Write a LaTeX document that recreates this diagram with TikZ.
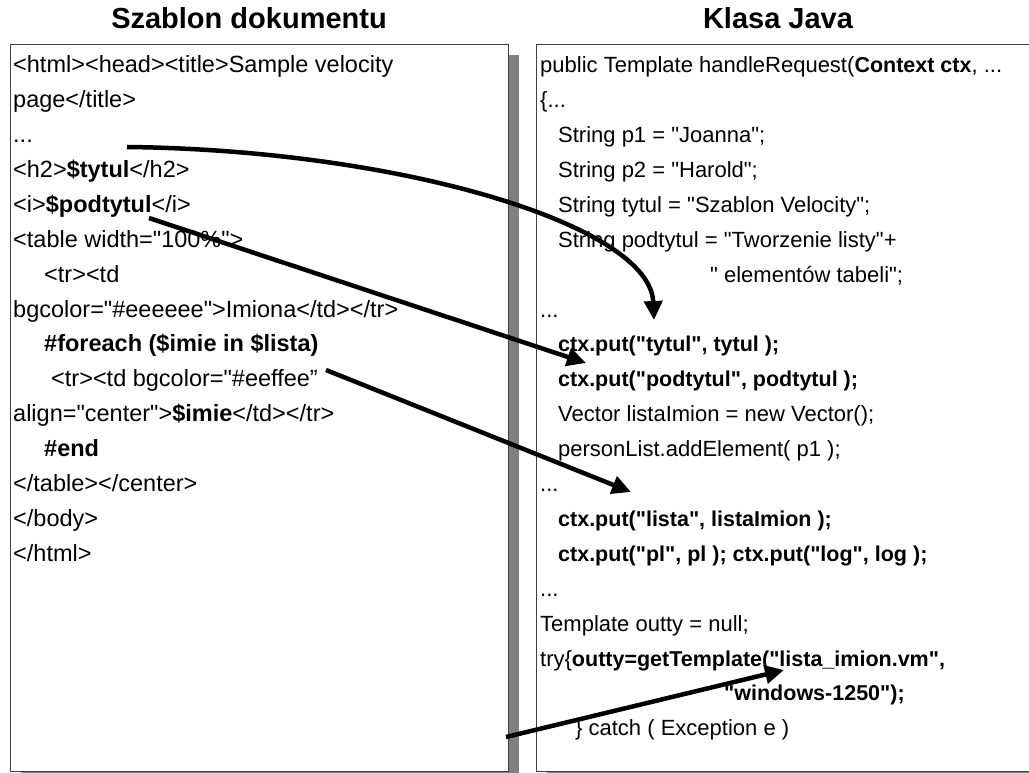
\documentclass[tikz,border=0pt]{standalone}
\usepackage{fontspec}
\setmainfont{Liberation Sans}[Ligatures=TeXOff]
\usetikzlibrary{arrows.meta,positioning,shadows}
\definecolor{frame}{RGB}{64,64,64}
\definecolor{shade}{RGB}{128,128,128}
\newcommand{\codedots}{...}
\newcommand{\jb}[1]{{\fontsize{21.5}{26}\selectfont\bfseries #1}}
\tikzset{
  >={Triangle[length=19pt,width=18pt]},
  panel/.style={draw=frame,fill=white,line width=1pt,anchor=north west,inner sep=0pt,
    minimum width=#1,minimum height=727pt,
    drop shadow={shadow xshift=11pt,shadow yshift=-11pt,fill=shade,opacity=1}},
  panel/.default=498pt,
  heading/.style={font=\fontsize{29}{34}\selectfont\bfseries,anchor=base,inner sep=0pt},
  codeline/.style={font=\fontsize{#1}{30}\selectfont,anchor=base west,inner sep=0pt},
  codeline/.default=22,
  link/.style={->,line width=4.5pt,draw=black},
}
\begin{document}
\begin{tikzpicture}[x=1pt,y=-1pt]
  \useasboundingbox (0,0) rectangle (1029,773);
  \clip (0,0) rectangle (1029,773);
  \node[panel] (tpl) at (9.5,44) {};
  \node[panel=520pt] (java) at (535.5,44) {};
  \node[heading] (tpltitle) at (249,29) {Szablon dokumentu};
  \node[heading] (javatitle) at (778,29) {Klasa Java};
  \foreach \t [count=\i from 0] in {{<html><head><title>Sample velocity},{page</title>},{\codedots},
    {<h2>\textbf{\$tytul}</h2>},{<i>\textbf{\$podtytul}</i>},{<table width="100\%">},
    {\hspace*{31pt}<tr><td},{bgcolor="\#eeeeee">Imiona</td></tr>},
    {\hspace*{31pt}\textbf{\#foreach (\$imie in \$lista)}},{\hspace*{38pt}<tr><td bgcolor="\#eeffee”},
    {align="center">\textbf{\$imie}</td></tr>},{\hspace*{31pt}\textbf{\#end}},
    {</table></center>},{</body>},{</html>}}{
    \node[codeline=23.5] (l\i) at (13,{72.7+34.9*\i}) {\t};
  }
  \foreach \t [count=\i from 0] in {{public Template handleRequest(\jb{Context ctx}, \codedots},{\{\codedots},
    {\hspace*{18pt}String p1 = "Joanna";},{\hspace*{18pt}String p2 = "Harold";},
    {\hspace*{18pt}String tytul = "Szablon Velocity";},{\hspace*{18pt}String podtytul = "Tworzenie listy"+},
    {\hspace*{170pt}" elementów tabeli";},{\codedots},
    {\hspace*{18pt}\jb{ctx.put("tytul", tytul );}},{\hspace*{18pt}\jb{ctx.put("podtytul", podtytul );}},
    {\hspace*{18pt}Vector listaImion = new Vector();},{\hspace*{18pt}personList.addElement( p1 );},{\codedots},
    {\hspace*{18pt}\jb{ctx.put("lista", listaImion );}},
    {\hspace*{18pt}\jb{ctx.put("pl", pl ); ctx.put("log", log );}},{\codedots},
    {Template outty = null;},{try\{\jb{outty=getTemplate("lista\_imion.vm",}},
    {\hspace*{184pt}\jb{"windows-1250");}},{\hspace*{35pt}\} catch ( Exception e )}}{
    \node[codeline] (r\i) at (540,{72.7+34.9*\i}) {\t};
  }
  \coordinate (tytulsrc) at (127,147);
  \coordinate (tytuldst) at (654,320);
  \coordinate (podsrc) at (149,218);
  \coordinate (poddst) at (586,363);
  \coordinate (listasrc) at (326,370);
  \coordinate (listadst) at (631,492);
  \coordinate (vmsrc) at (506,737);
  \coordinate (vmdst) at (784,670);
  \draw[link] (tytulsrc) .. controls (400,150) and (650,225) .. (tytuldst);
  \draw[link] (podsrc) -- (poddst);
  \draw[link] (listasrc) -- (listadst);
  \draw[link] (vmsrc) -- (vmdst);
\end{tikzpicture}
\end{document}
